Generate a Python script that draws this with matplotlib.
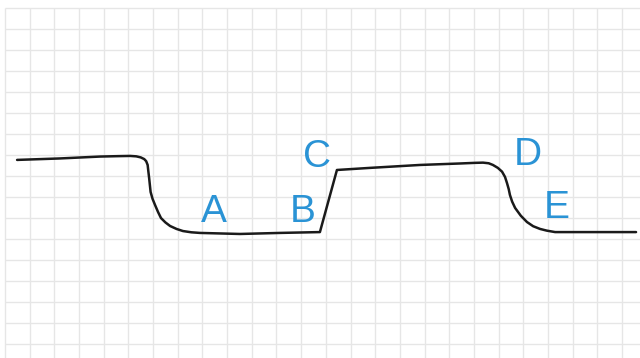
import numpy as np
import matplotlib
matplotlib.use("Agg")
from matplotlib import pyplot as plt

# curva (unidades de la cuadricula)
curva_x = [0.49, 2.23, 3.85, 4.60, 5.07, 5.32, 5.50, 5.64, 5.72, 5.78, 5.81, 5.84,
           5.90, 5.98, 6.08, 6.20, 6.32, 6.50, 6.69, 6.95, 7.21, 7.55, 7.90, 9.52,
           11.14, 12.76, 13.45, 14.79, 16.82, 18.44, 19.05, 19.37, 19.60, 19.77,
           19.97, 20.14, 20.26, 20.34, 20.41, 20.46, 20.55, 20.67, 20.90, 21.15,
           21.40, 21.68, 21.95, 22.29, 24.11, 25.57]
curva_y = [8.76, 8.83, 8.92, 8.94, 8.95, 8.93, 8.88, 8.80, 8.70, 8.52, 8.20, 7.90,
           7.23, 6.90, 6.61, 6.28, 5.99, 5.78, 5.61, 5.47, 5.37, 5.31, 5.28, 5.23,
           5.28, 5.32, 8.28, 8.38, 8.52, 8.59, 8.62, 8.63, 8.60, 8.52, 8.38, 8.20,
           7.95, 7.66, 7.37, 7.09, 6.77, 6.47, 6.10, 5.80, 5.60, 5.47, 5.39, 5.32,
           5.32, 5.32]

# etiquetas
letras = ["A", "B", "C", "D", "E"]
letras_x = [8.47, 12.05, 12.63, 21.17, 22.37]
letras_y = [5.82, 5.82, 8.44, 8.52, 5.98]

fig = plt.figure(figsize=(6.4, 3.58), dpi=100)
ax = fig.add_axes([0, 0, 1, 1])
ax.set_xlim(-0.2026, 25.73)
ax.set_ylim(-0.6816, 16.382)
ax.axis("off")

#cuadricula
ax.vlines(np.arange(0, 26), -0.6816, 16, color="#e6e6e6", lw=1.0, zorder=0)
ax.hlines(np.arange(0, 17), 0, 25.73, color="#e6e6e6", lw=1.0, zorder=0)

ax.plot(curva_x, curva_y, color="#1a1a1a", lw=1.8, solid_joinstyle="round",
        solid_capstyle="round", zorder=2)

for t, x, y in zip(letras, letras_x, letras_y):
    ax.text(x, y, t, color="#2a93d5", fontsize=28, family="Liberation Sans",
            ha="center", va="baseline", zorder=3)

fig.savefig("out.png", dpi=100)
